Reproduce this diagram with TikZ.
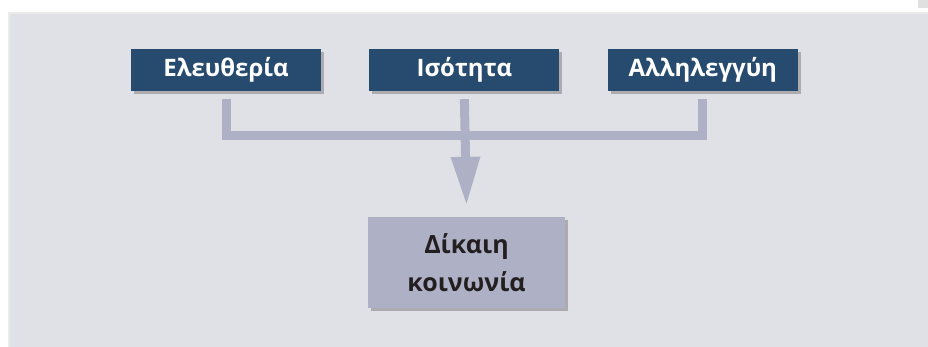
\documentclass[tikz,border=0pt]{standalone}
\usepackage{fontspec}
\setmainfont{Open Sans}
\usetikzlibrary{positioning, arrows.meta, shadows}

\definecolor{panelgray}{HTML}{E0E1E6}
\definecolor{boxblue}{HTML}{264B6E}
\definecolor{linkgray}{HTML}{AEB1C5}
\definecolor{textdark}{HTML}{231F20}

\begin{document}
\begin{tikzpicture}[x=1pt, y=-1pt, node distance=48pt]
  \tikzstyle{valuebox}=[rectangle, fill=boxblue, text=white, minimum width=190pt, minimum height=42pt,
    font=\bfseries\fontsize{24}{28}\selectfont,
    drop shadow={shadow xshift=3pt, shadow yshift=-3pt, opacity=0.35, fill=black!70}]
  \tikzstyle{goalbox}=[rectangle, fill=linkgray, text=textdark, minimum width=197pt, minimum height=91pt,
    align=center, font=\bfseries\fontsize{25}{38}\selectfont,
    drop shadow={shadow xshift=3pt, shadow yshift=-3pt, opacity=0.35, fill=black!70}]
  \tikzstyle{link}=[draw=linkgray, line width=9pt, line join=miter]
  \useasboundingbox (0,0) rectangle (928,347);
  % background panel
  \fill[white] (0,0) rectangle (928,347);
  \fill[black!8] (8,12) rectangle (928,347);
  \fill[panelgray] (10,14) rectangle (928,347);
  \fill[black!12] (918,0) rectangle (928,8);
  % values
  \node[valuebox] (lib) at (226,70) {Ελευθερία};
  \node[valuebox, right=of lib] (isot) {Ισότητα};
  \node[valuebox, right=of isot] (alli) {Αλληλεγγύη};
  \node[goalbox] (soc) at (466.5,262.5) {Δίκαιη\\κοινωνία};
  \coordinate (hub) at (464,136);
  % connectors
  \draw[link] ([yshift=-8pt]lib.south) -- (lib.south |- hub) -- (alli.south |- hub) -- ([yshift=-8pt]alli.south);
  \draw[link, -{Triangle[width=27pt, length=49pt]}] ([yshift=-8pt]isot.south) -- ([yshift=11pt]soc.north);
\end{tikzpicture}
\end{document}
